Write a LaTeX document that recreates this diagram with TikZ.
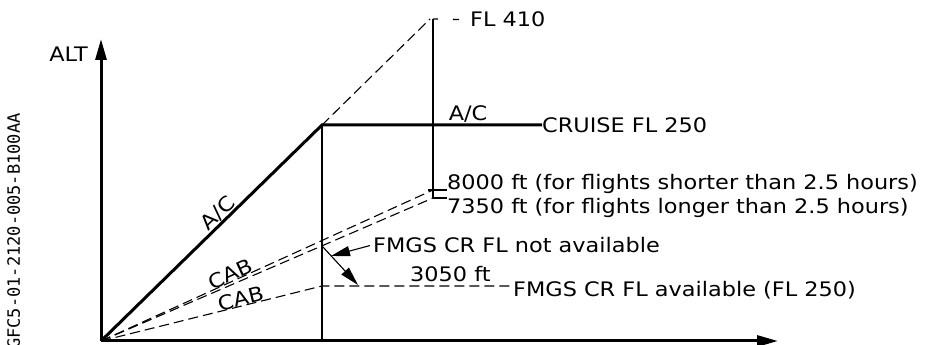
\documentclass[tikz,border=0pt]{standalone}
\usepackage{fontspec}
\newfontfamily\lblfont{DejaVu Sans}[FakeStretch=1.12]
\newfontfamily\codefont{DejaVu Sans Mono}
\usetikzlibrary{arrows.meta}
\tikzset{
  axis/.style={line width=3pt,-{Triangle[length=21pt,width=11pt]}},
  acline/.style={line width=3pt,line join=miter},
  thinline/.style={line width=1.3pt},
  cabline/.style={line width=1.1pt,dash pattern=on 10pt off 5pt},
  callout/.style={line width=1.1pt,-{Triangle[length=19pt,width=10pt]}},
  lbl/.style={font=\lblfont\fontsize{20}{24}\selectfont,inner sep=0pt}
}
\begin{document}
\begin{tikzpicture}[x=1pt,y=1pt]
\useasboundingbox (0,0) rectangle (931,345);
% axes
\coordinate (O) at (101,4);
\coordinate (ytip) at (101,306);
\coordinate (xtip) at (778,4);
\draw[axis] (O) -- (ytip);
\draw[axis] (O) -- (xtip);
\node[lbl,anchor=base east] (alt) at (88,283) {ALT};
\node[font=\codefont\fontsize{17}{20}\selectfont,rotate=90,anchor=base west,inner sep=0pt] (figref) at (20,-4) {GFC5-01-2120-005-B100AA};
% aircraft climb and cruise
\coordinate (top) at (322,220);
\coordinate (cruise) at (542,220);
\coordinate (foot) at (322,4);
\draw[acline] (O) -- (top) -- (cruise);
\draw[thinline] (top) -- (foot);
\node[lbl,anchor=west] (cruiselbl) at (cruise) {CRUISE FL 250};
\node[lbl,anchor=base] (aclbl) at (468,224) {A/C};
\path (O) -- (top) node[lbl,pos=0.56,sloped,above=1pt] (climblbl) {A/C};
% ceiling FL 410
\coordinate (fl410) at (430,326);
\coordinate (vtop) at (433,326);
\coordinate (c8000) at (433,155);
\coordinate (c7350) at (433,147);
\coordinate (t8000) at (428,155);
\draw[cabline] (top) -- (fl410);
\draw[thinline] (vtop) -- (c7350);
\node[lbl,anchor=base west] (fl410lbl) at (470,318) {FL 410};
\draw[thinline,dash pattern=on 5pt off 15pt on 6pt off 30pt] (vtop) -- (fl410lbl.west);
% cabin profiles
\draw[cabline] (O) -- (c8000);
\draw[cabline] (O) -- (c7350);
\node[lbl,anchor=base west] (lbl8000) at (447,155) {8000 ft (for flights shorter than 2.5 hours)};
\node[lbl,anchor=north west] (lbl7350) at (447,147) {7350 ft (for flights longer than 2.5 hours)};
\draw[thinline] (t8000) -- (lbl8000.base west);
\draw[thinline] (c7350) -- (lbl7350.north west);
\path (O) -- (c8000) node[lbl,pos=0.4,sloped,anchor=base] (cab1) {CAB};
\coordinate (c3050) at (322,59);
\node[lbl,anchor=base west] (lbl3050) at (410,63) {3050 ft};
\node[lbl,anchor=base west] (avail) at (513,48) {FMGS CR FL available (FL 250)};
\draw[cabline] (O) -- (c3050) -- (c3050 -| avail.west);
\path (O) -- (c3050) node[lbl,pos=0.64,sloped,anchor=base] (cab2) {CAB};
% FMGS callouts
\node[lbl,anchor=base west] (notavail) at (373,92) {FMGS CR FL not available};
\coordinate (tipA) at (331,89);
\coordinate (cross) at (322,99);
\coordinate (tipB) at (358,60);
\draw[callout] ([xshift=-3pt]notavail.west) -- (tipA);
\draw[callout] (cross) -- (tipB);
\end{tikzpicture}
\end{document}
